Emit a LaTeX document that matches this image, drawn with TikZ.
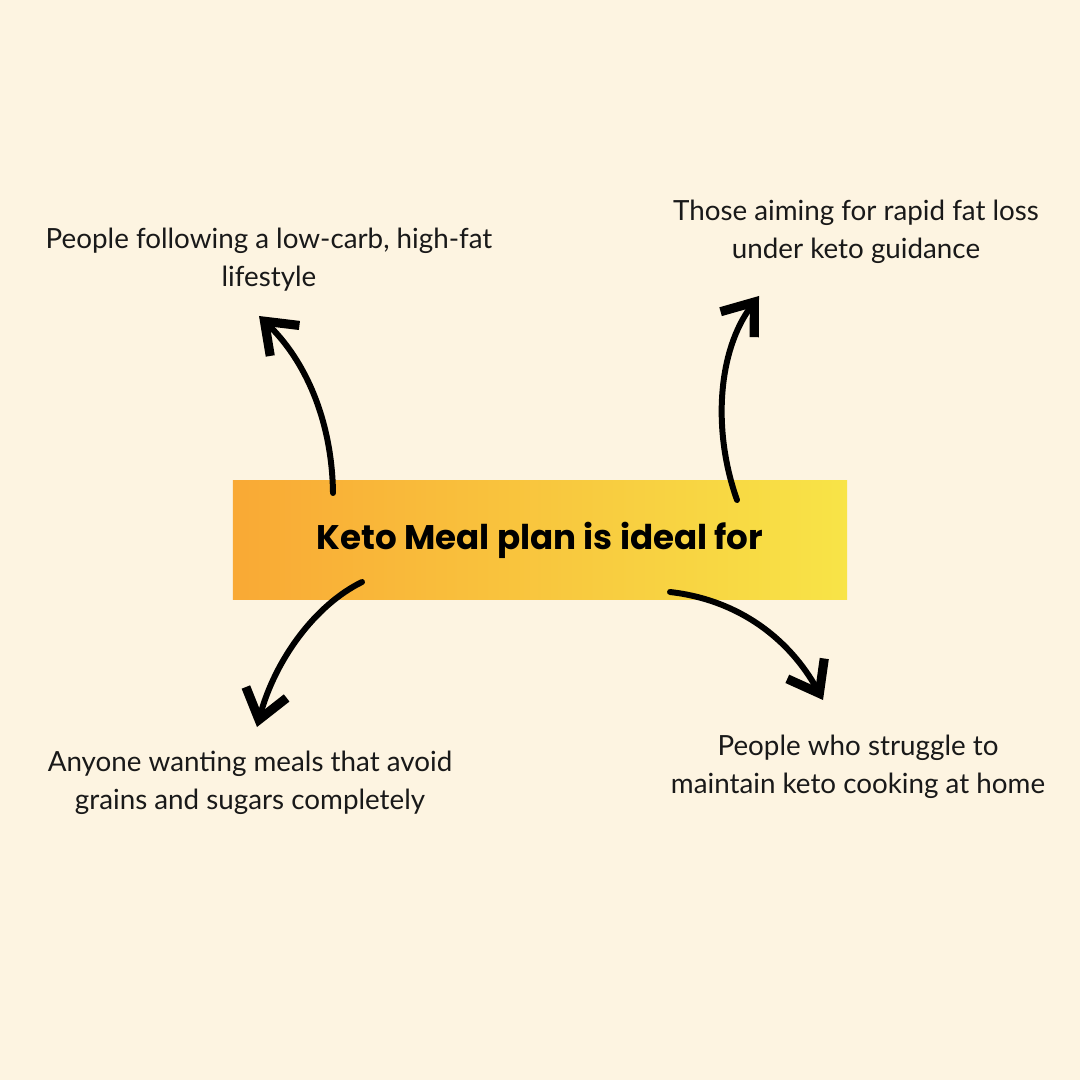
\documentclass[tikz,border=0pt]{standalone}
\usepackage{fontspec}
\setmainfont{Lato}
\newfontfamily\headfont{Poppins}
\usepackage{tikz}
\usetikzlibrary{arrows.meta, positioning, calc}
\usepackage{xcolor}
\definecolor{cream}{HTML}{FDF4E1}
\definecolor{hubleft}{HTML}{F9A935}
\definecolor{hubright}{HTML}{F8E447}

\begin{document}
\begin{tikzpicture}[x=0.01cm, y=-0.01cm,
    hub/.style={rectangle, minimum width=6.14cm, minimum height=1.18cm, left color=hubleft, right color=hubright, draw=none, font=\headfont\bfseries\fontsize{9.7}{12}\selectfont},
    who/.style={align=center, font=\fontsize{7.9}{10.8}\selectfont, text=black!90, inner sep=0pt},
    curl/.style={line width=1.7pt, line cap=round, -{Straight Barb[length=8pt, width=12pt, line width=2.6pt]}}]
\fill[cream] (0,0) rectangle (1080,1080);
\node[hub] (hub) at (540,540) {Keto Meal plan is ideal for};
\node[who] (lowcarb) at (269,260) {People following a low-carb, high-fat\\lifestyle};
\node[who] (fatloss) at (856,232) {Those aiming for rapid fat loss\\under keto guidance};
\node[who] (nograin) at (250,783) {Anyone wanting meals that avoid\\grains and sugars completely};
\node[who] (cooking) at (858,767) {People who struggle to\\maintain keto cooking at home};
% arrow ends
\coordinate (a1) at (333,493);
\coordinate (b1) at (259,316);
\coordinate (a2) at (737,500);
\coordinate (b2) at (759,296);
\coordinate (a3) at (362,582);
\coordinate (b3) at (257,727);
\coordinate (a4) at (670,592);
\coordinate (b4) at (823,700);
\draw[curl] (a1) .. controls (332,420) and (305,360) .. (b1);
\draw[curl] (a2) .. controls (712,430) and (718,350) .. (b2);
\draw[curl] (a3) .. controls (315,605) and (275,660) .. (b3);
\draw[curl] (a4) .. controls (740,600) and (790,640) .. (b4);
\end{tikzpicture}
\end{document}
